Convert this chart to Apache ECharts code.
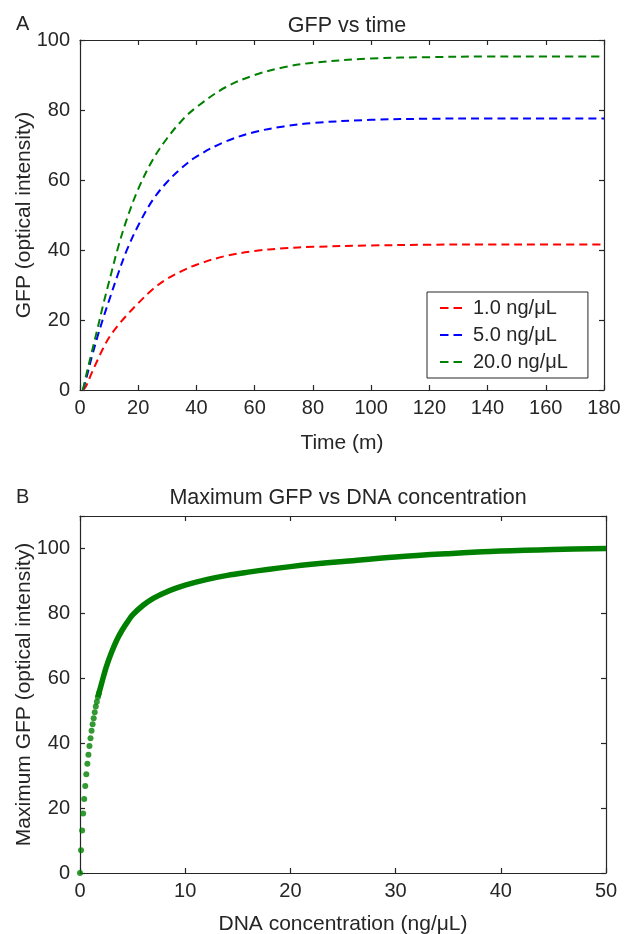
<!DOCTYPE html>
<html>
<head>
<meta charset="utf-8">
<script src="https://cdn.jsdelivr.net/npm/echarts@6/dist/echarts.min.js"></script>
<style>
html,body{margin:0;padding:0;background:#fff;}
#chart{width:624px;height:934px;}
</style>
</head>
<body>
<div id="chart"></div>
<script>
// ---- Panel A data: GFP vs time ----
const timeMin = [1, 2, 4, 6, 8, 10, 13, 16, 20, 25, 30, 35, 40, 50, 60, 70, 80, 100, 120, 140, 160, 180];
const gfpDna1 = [0, 1.0, 4.8, 8.5, 12.0, 15.0, 18.4, 21.3, 24.8, 28.8, 31.8, 34.0, 35.8, 38.3, 39.7, 40.5, 40.9, 41.3, 41.5, 41.6, 41.6, 41.6];
const gfpDna5 = [0, 2.8, 9.3, 15.2, 20.6, 25.6, 33.0, 39.8, 47.0, 54.3, 59.5, 63.5, 66.7, 71.0, 73.7, 75.3, 76.3, 77.2, 77.5, 77.6, 77.6, 77.6];
const gfpDna20 = [0, 3.8, 10.7, 17.5, 24.5, 31.0, 40.5, 48.6, 57.4, 65.8, 72.0, 77.0, 80.8, 86.5, 90.0, 92.2, 93.5, 94.7, 95.1, 95.3, 95.3, 95.3];
const seriesNames = ['1.0 ng/\u03bcL', '5.0 ng/\u03bcL', '20.0 ng/\u03bcL'];
const timeTicks = {min: 0, max: 180, interval: 20};
const gfpTicks = {min: 0, max: 100, interval: 20};

// ---- Panel B data: Maximum GFP vs DNA concentration ----
const dnaConc = [0, 0.1, 0.2, 0.3, 0.4, 0.5, 0.6, 0.7, 0.8, 0.9, 1.0, 1.1, 1.2, 1.3, 1.4, 1.5, 1.6, 1.7, 1.8,
  2.0, 2.5, 3, 3.5, 4, 4.5, 5, 6, 7, 8, 9, 10, 12, 14, 16, 18, 20, 22, 25, 30, 35, 40, 45, 50];
const maxGfp = [0, 7.0, 13.1, 18.3, 22.8, 26.8, 30.4, 33.7, 36.4, 39.1, 41.5, 43.8, 45.8, 47.7, 49.5, 51.3, 52.8, 54.2, 55.4,
  57.8, 63.5, 68.0, 71.8, 74.8, 77.3, 79.5, 82.5, 84.7, 86.3, 87.6, 88.7, 90.4, 91.7, 92.7, 93.6, 94.4, 95.1, 96.0, 97.4, 98.4, 99.2, 99.7, 100.0];
const concTicks = {min: 0, max: 50, interval: 10};
const maxGfpTicks = {min: 0, max: 110, interval: 20};
const denseStart = 17; // index from which the dots merge into a continuous band

const FONT = "'Liberation Sans', Arial, Helvetica, sans-serif";
const INK = '#262626';
const colors = ['#ff0000', '#0000ff', '#008000'];
const dashIcon = 'path://M0,0H8.5V2H0Z M13.5,0H22V2H13.5Z';

function boxAxis(gridIndex, ticks, pos, extra) {
  const main = (pos === 'bottom' || pos === 'left');
  return Object.assign({
    gridIndex: gridIndex, type: 'value', position: pos,
    min: ticks.min, max: ticks.max, interval: ticks.interval,
    nameMoveOverlap: false,
    axisLine: {show: true, onZero: false, lineStyle: {color: INK, width: 1.2}},
    axisTick: {show: true, inside: true, length: 5, lineStyle: {color: INK, width: 1.2}},
    axisLabel: {show: main, fontSize: 20, fontFamily: FONT, color: INK, margin: (pos === 'left' ? 10 : 8),
      showMinLabel: true, showMaxLabel: true},
    splitLine: {show: false}
  }, extra || {});
}
const nameStyle = {fontSize: 21, fontFamily: FONT, color: INK};

const chart = echarts.init(document.getElementById('chart'), null, {renderer: 'canvas'});
const lineData = [gfpDna1, gfpDna5, gfpDna20];
const topSeries = lineData.map((vals, k) => ({
  name: seriesNames[k], type: 'line', xAxisIndex: 0, yAxisIndex: 0,
  data: timeMin.map((t, i) => [t, vals[i]]),
  symbol: 'none', smooth: 0.35,
  lineStyle: {color: colors[k], width: 2, type: [8, 5]},
  itemStyle: {color: colors[k]}
}));
const bottomPts = dnaConc.map((c, i) => [c, maxGfp[i]]);

const titleStyle = {fontSize: 21.5, fontWeight: 'normal', fontFamily: FONT, color: INK};
const panelStyle = {fontSize: 20, fontWeight: 'normal', fontFamily: FONT, color: INK};

chart.setOption({
  animation: false,
  backgroundColor: '#fff',
  title: [
    {text: 'A', left: 11, top: 9, textStyle: panelStyle},
    {text: 'GFP vs time', left: 342, top: 10, textAlign: 'center', textStyle: titleStyle},
    {text: 'B', left: 11, top: 482, textStyle: panelStyle},
    {text: 'Maximum GFP vs DNA concentration', left: 343, top: 482, textAlign: 'center', textStyle: titleStyle}
  ],
  grid: [
    {left: 80, top: 40, width: 524, height: 350, containLabel: false, outerBoundsMode: 'none'},
    {left: 80, top: 516, width: 526, height: 357, containLabel: false, outerBoundsMode: 'none'}
  ],
  legend: {
    data: seriesNames.map(n => ({name: n, icon: dashIcon})),
    orient: 'vertical', left: 427, top: 292,
    itemWidth: 22, itemHeight: 2, itemGap: 7,
    padding: [6, 20, 6, 13],
    borderColor: INK, borderWidth: 1, backgroundColor: '#fff',
    selectedMode: false,
    textStyle: {fontSize: 20, fontFamily: FONT, color: INK, padding: [0, 0, 0, 6], lineHeight: 20}
  },
  xAxis: [
    boxAxis(0, timeTicks, 'bottom', {name: 'Time (m)', nameLocation: 'middle', nameGap: 43, nameTextStyle: nameStyle}),
    boxAxis(0, timeTicks, 'top'),
    boxAxis(1, concTicks, 'bottom', {name: 'DNA concentration (ng/\u03bcL)', nameLocation: 'middle', nameGap: 41, nameTextStyle: nameStyle}),
    boxAxis(1, concTicks, 'top')
  ],
  yAxis: [
    boxAxis(0, gfpTicks, 'left', {name: 'GFP (optical intensity)', nameLocation: 'middle', nameGap: 45, nameRotate: 90, nameTextStyle: nameStyle}),
    boxAxis(0, gfpTicks, 'right'),
    boxAxis(1, maxGfpTicks, 'left', {name: 'Maximum GFP (optical intensity)', nameLocation: 'middle', nameGap: 45, nameRotate: 90, nameTextStyle: nameStyle,
      axisLabel: {fontSize: 20, fontFamily: FONT, color: INK, margin: 10,
        formatter: v => (v > 100 ? '' : String(v))}}),
    boxAxis(1, maxGfpTicks, 'right')
  ],
  series: topSeries.concat([
    {name: 'maxline', type: 'line', xAxisIndex: 2, yAxisIndex: 2,
      data: bottomPts.slice(denseStart), symbol: 'none', smooth: 0.35,
      lineStyle: {color: '#008000', width: 5.5}, clip: false},
    {name: 'maxdots', type: 'scatter', xAxisIndex: 2, yAxisIndex: 2,
      data: bottomPts.slice(0, denseStart + 2), symbol: 'circle', symbolSize: 6,
      itemStyle: {color: '#008000'}, clip: false}
  ])
});
</script>
</body>
</html>
